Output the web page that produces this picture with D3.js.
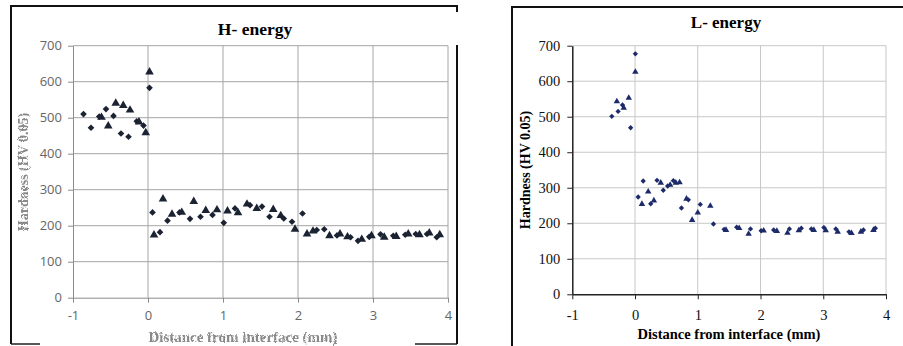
<!DOCTYPE html>
<html>
<head>
<meta charset="utf-8">
<script src="https://cdn.jsdelivr.net/npm/d3@7"></script>
<style>
  body { margin: 0; background: #fff; }
  svg { display: block; }
</style>
</head>
<body>
<svg id="chart" width="903" height="346"></svg>
<script>
// tick labels
const xTicks = [-1, 0, 1, 2, 3, 4];
const yTicks = [0, 100, 200, 300, 400, 500, 600, 700];

// H- energy (left panel): [distance mm, hardness]
const hDiamonds = [
  [-0.86, 510], [-0.76, 472], [-0.65, 503], [-0.56, 524], [-0.46, 505], [-0.36, 456],
  [-0.26, 447], [-0.15, 490], [-0.06, 478], [0.02, 583], [0.06, 237], [0.16, 182],
  [0.26, 214], [0.42, 237], [0.56, 219], [0.70, 225], [0.86, 230], [1.01, 208],
  [1.16, 248], [1.36, 257], [1.52, 253], [1.62, 225], [1.81, 220], [1.92, 211],
  [2.06, 234], [2.25, 188], [2.35, 190], [2.52, 173], [2.70, 168], [2.80, 158],
  [2.95, 169], [3.10, 176], [3.27, 172], [3.43, 175], [3.57, 177], [3.72, 177], [3.85, 168]
];
const hTriangles = [
  [-0.62, 501], [-0.53, 477], [-0.43, 540], [-0.33, 534], [-0.24, 521], [-0.12, 488],
  [-0.03, 458], [0.02, 627], [0.08, 174], [0.20, 274], [0.32, 232], [0.45, 237],
  [0.61, 267], [0.77, 242], [0.92, 244], [1.06, 241], [1.20, 236], [1.32, 260],
  [1.45, 248], [1.67, 245], [1.77, 228], [1.96, 190], [2.12, 177], [2.20, 185],
  [2.42, 172], [2.56, 177], [2.66, 169], [2.85, 162], [2.98, 172], [3.15, 168],
  [3.31, 170], [3.47, 177], [3.62, 175], [3.75, 180], [3.89, 175]
];

// L- energy (right panel)
const lDiamonds = [
  [-0.37, 501], [-0.27, 515], [-0.20, 533], [-0.07, 469], [0.005, 677], [0.05, 274],
  [0.13, 319], [0.25, 255], [0.35, 321], [0.45, 293], [0.52, 305], [0.61, 320],
  [0.74, 243], [0.85, 266], [1.04, 253], [1.25, 198], [1.42, 183], [1.62, 189],
  [1.84, 184], [2.01, 179], [2.21, 181], [2.46, 184], [2.65, 186], [2.81, 184],
  [3.01, 188], [3.20, 184], [3.41, 176], [3.64, 181], [3.83, 186]
];
const lTriangles = [
  [-0.29, 543], [-0.18, 525], [-0.10, 553], [0.005, 626], [0.11, 254], [0.21, 289],
  [0.30, 264], [0.41, 314], [0.56, 308], [0.65, 314], [0.71, 315], [0.82, 269],
  [0.91, 209], [1.00, 230], [1.20, 249], [1.45, 181], [1.66, 186], [1.81, 170],
  [2.05, 179], [2.26, 178], [2.43, 173], [2.61, 180], [2.85, 181], [3.04, 180],
  [3.23, 176], [3.45, 172], [3.60, 176], [3.80, 181]
];

const svg = d3.select('#chart');
const fmt = d => (d < 0 ? '-' : '') + Math.abs(d);

// speckle filter for the scanned-looking labels of the left panel
const defs = svg.append('defs');
const noisy = defs.append('filter').attr('id', 'noisy').attr('x', '-10%').attr('y', '-10%')
  .attr('width', '120%').attr('height', '120%');
noisy.append('feTurbulence').attr('type', 'fractalNoise').attr('baseFrequency', 0.9)
  .attr('numOctaves', 1).attr('seed', 3).attr('result', 'n');
noisy.append('feDisplacementMap').attr('in', 'SourceGraphic').attr('in2', 'n')
  .attr('scale', 3).attr('xChannelSelector', 'R').attr('yChannelSelector', 'G');

function marks(g, data, x, y, type, size, col) {
  g.selectAll(null).data(data).enter().append('path')
    .attr('transform', d => 'translate(' + x(d[0]) + ',' + y(d[1]) + ')' +
      (type === d3.symbolSquare ? ' rotate(45)' : ''))
    .attr('d', d3.symbol(type, size)).attr('fill', col);
}

// ---------- left panel: H- energy ----------
function drawLeft() {
  const x = d3.scaleLinear().domain([-1, 4]).range([73, 448]);
  const y = d3.scaleLinear().domain([0, 700]).range([297.7, 45.7]);
  const g = svg.append('g');

  // frame (cropped scan)
  g.append('path')
    .attr('d', 'M11,344 V6 H457 V12 M457,45 V344')
    .attr('fill', 'none').attr('stroke', '#111').attr('stroke-width', 2);
  g.append('path').attr('d', 'M11,344 H40 M415,344 H457')
    .attr('stroke', '#222').attr('stroke-width', 1.5);

  // grid
  g.selectAll('.hy').data(yTicks.slice(1)).enter().append('line')
    .attr('x1', x(-1)).attr('x2', x(4)).attr('y1', d => y(d)).attr('y2', d => y(d))
    .attr('stroke', '#a6a6a6').attr('stroke-width', 1);
  g.selectAll('.hx').data(xTicks.slice(1)).enter().append('line')
    .attr('x1', d => x(d)).attr('x2', d => x(d)).attr('y1', y(0)).attr('y2', y(700))
    .attr('stroke', '#a6a6a6').attr('stroke-width', 1);

  const ax = g.append('g').attr('transform', 'translate(0,' + y(0) + ')')
    .call(d3.axisBottom(x).tickValues(xTicks).tickFormat(fmt).tickSize(5).tickSizeOuter(0).tickPadding(8));
  const ay = g.append('g').attr('transform', 'translate(' + x(-1) + ',0)')
    .call(d3.axisLeft(y).tickValues(yTicks).tickFormat(fmt).tickSize(5).tickSizeOuter(0).tickPadding(6));
  [ax, ay].forEach(a => {
    a.select('.domain').attr('stroke', '#8c8c8c');
    a.selectAll('.tick line').attr('stroke', '#8c8c8c');
    a.selectAll('text').attr('fill', '#666').attr('font-size', 13)
      .attr('font-family', 'Open Sans, DejaVu Sans, sans-serif');
  });

  g.append('text').attr('x', 255).attr('y', 35).attr('text-anchor', 'middle')
    .attr('font-family', 'Liberation Serif, serif').attr('font-weight', 'bold')
    .attr('font-size', 17.5).text('H- energy');

  g.append('text').attr('transform', 'translate(28,172) rotate(-90)')
    .attr('text-anchor', 'middle').attr('font-family', 'Liberation Serif, serif')
    .attr('font-weight', 'bold').attr('font-size', 14).attr('fill', '#888')
    .attr('filter', 'url(#noisy)').text('Hardness (HV 0.05)');
  g.append('text').attr('x', 243).attr('y', 342).attr('text-anchor', 'middle')
    .attr('font-family', 'Liberation Serif, serif').attr('font-weight', 'bold')
    .attr('font-size', 15).attr('fill', '#888').attr('filter', 'url(#noisy)')
    .text('Distance from interface (mm)');

  const col = '#1b2232';
  marks(g, hDiamonds, x, y, d3.symbolSquare, 22, col);
  marks(g, hTriangles, x, y, d3.symbolTriangle, 32, col);
}

// ---------- right panel: L- energy ----------
function drawRight() {
  const x = d3.scaleLinear().domain([-1, 4]).range([572.3, 886]);
  const y = d3.scaleLinear().domain([0, 700]).range([294.3, 45.7]);
  const g = svg.append('g');

  g.append('path').attr('d', 'M512,346 V7 H903')
    .attr('fill', 'none').attr('stroke', '#111').attr('stroke-width', 2);

  g.selectAll('.hy').data(yTicks.slice(1)).enter().append('line')
    .attr('x1', x(-1)).attr('x2', x(4)).attr('y1', d => y(d)).attr('y2', d => y(d))
    .attr('stroke', '#c8c8c8').attr('stroke-width', 1);
  g.selectAll('.hx').data(xTicks.slice(1)).enter().append('line')
    .attr('x1', d => x(d)).attr('x2', d => x(d)).attr('y1', y(0)).attr('y2', y(700))
    .attr('stroke', '#c8c8c8').attr('stroke-width', 1);

  const ax = g.append('g').attr('transform', 'translate(0,' + y(0) + ')')
    .call(d3.axisBottom(x).tickValues(xTicks).tickFormat(fmt).tickSize(5).tickSizeOuter(0).tickPadding(10));
  const ay = g.append('g').attr('transform', 'translate(' + x(-1) + ',0)')
    .call(d3.axisLeft(y).tickValues(yTicks).tickFormat(fmt).tickSize(5).tickSizeOuter(0).tickPadding(7));
  [ax, ay].forEach(a => {
    a.select('.domain').attr('stroke', '#222').attr('stroke-width', 1.5);
    a.selectAll('.tick line').attr('stroke', '#222');
    a.selectAll('text').attr('fill', '#111').attr('font-size', 14.5)
      .attr('font-family', 'Liberation Serif, serif');
  });

  g.append('text').attr('x', 726).attr('y', 28).attr('text-anchor', 'middle')
    .attr('font-family', 'Liberation Serif, serif').attr('font-weight', 'bold')
    .attr('font-size', 17).text('L- energy');
  g.append('text').attr('transform', 'translate(530,170) rotate(-90)')
    .attr('text-anchor', 'middle').attr('font-family', 'Liberation Serif, serif')
    .attr('font-weight', 'bold').attr('font-size', 14).text('Hardness (HV 0.05)');
  g.append('text').attr('x', 729).attr('y', 339).attr('text-anchor', 'middle')
    .attr('font-family', 'Liberation Serif, serif').attr('font-weight', 'bold')
    .attr('font-size', 14.5).text('Distance from interface (mm)');

  const col = '#1d2a6a';
  marks(g, lDiamonds, x, y, d3.symbolSquare, 14, col);
  marks(g, lTriangles, x, y, d3.symbolTriangle, 18, col);
}

drawLeft();
drawRight();
</script>
</body>
</html>
